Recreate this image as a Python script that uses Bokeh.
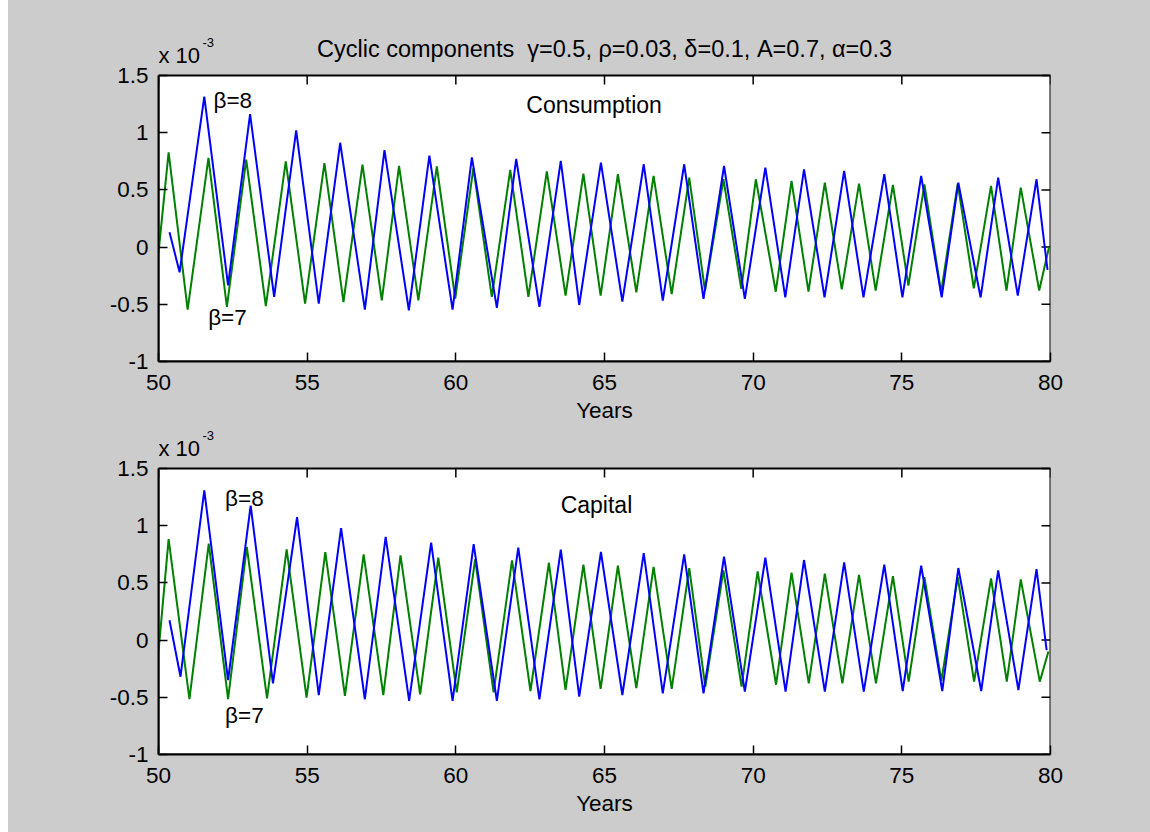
from bokeh.plotting import figure
from bokeh.models import Range1d, FixedTicker, Label, Spacer
from bokeh.layouts import column, row
from bokeh.embed import file_html
from bokeh.resources import INLINE

# ---------------- data (values in units of 1e-3) ----------------
title_text = "Cyclic components\u00a0 \u03b3=0.5, \u03c1=0.03, \u03b4=0.1, A=0.7, \u03b1=0.3"
x_ticks = [50, 55, 60, 65, 70, 75, 80]
x_tick_labels = ["50", "55", "60", "65", "70", "75", "80"]
y_ticks = [-1, -0.5, 0, 0.5, 1, 1.5]
y_tick_labels = ["-1", "-0.5", "0", "0.5", "1", "1.5"]

# Consumption, beta = 8 (blue): turning points
cons_b8_x = [50.37, 50.71, 51.54, 52.34, 53.08, 53.89, 54.63, 55.39, 56.11, 56.94, 57.60, 58.42,
             59.11, 59.89, 60.54, 61.38, 62.03, 62.81, 63.53, 64.15, 64.88, 65.60, 66.32, 66.96,
             67.68, 68.33, 69.02, 69.72, 70.41, 71.08, 71.71, 72.40, 73.06, 73.71, 74.41, 75.02,
             75.65, 76.34, 76.90, 77.65, 78.24, 78.90, 79.53, 79.90]
cons_b8_y = [0.13, -0.22, 1.315, -0.334, 1.162, -0.436, 1.02, -0.494, 0.912, -0.547, 0.847, -0.552,
             0.80, -0.547, 0.785, -0.532, 0.771, -0.523, 0.753, -0.506, 0.738, -0.477, 0.724, -0.468,
             0.724, -0.453, 0.709, -0.453, 0.695, -0.44, 0.68, -0.44, 0.666, -0.44, 0.637, -0.44,
             0.622, -0.44, 0.564, -0.44, 0.607, -0.424, 0.593, -0.20]

# Consumption, beta = 7 (green)
cons_b7_x = [50.0, 50.34, 50.98, 51.68, 52.30, 52.95, 53.61, 54.28, 54.93, 55.58, 56.22, 56.86,
             57.51, 58.09, 58.74, 59.36, 59.98, 60.59, 61.21, 61.83, 62.44, 63.06, 63.69, 64.29,
             64.87, 65.45, 66.07, 66.65, 67.26, 67.85, 68.38, 69.00, 69.60, 70.09, 70.76, 71.29,
             71.86, 72.41, 72.98, 73.56, 74.12, 74.70, 75.22, 75.76, 76.32, 76.88, 77.42, 78.00,
             78.52, 79.00, 79.62, 79.95]
cons_b7_y = [-0.05, 0.829, -0.547, 0.779, -0.523, 0.765, -0.515, 0.75, -0.494, 0.735, -0.48, 0.72,
             -0.465, 0.71, -0.465, 0.706, -0.45, 0.69, -0.436, 0.675, -0.436, 0.662, -0.424, 0.642,
             -0.424, 0.637, -0.395, 0.622, -0.41, 0.607, -0.38, 0.593, -0.365, 0.593, -0.39, 0.578,
             -0.39, 0.564, -0.37, 0.555, -0.38, 0.544, -0.336, 0.549, -0.395, 0.555, -0.36, 0.535,
             -0.38, 0.52, -0.38, 0.0]

# Capital, beta = 8 (blue)
cap_b8_x = [50.37, 50.74, 51.54, 52.34, 53.10, 53.85, 54.66, 55.39, 56.14, 56.94, 57.64, 58.43,
            59.17, 59.89, 60.60, 61.38, 62.10, 62.81, 63.53, 64.15, 64.88, 65.60, 66.32, 66.96,
            67.68, 68.33, 69.02, 69.72, 70.41, 71.09, 71.71, 72.41, 73.06, 73.72, 74.41, 75.03,
            75.65, 76.36, 76.90, 77.67, 78.24, 78.92, 79.53, 79.87]
cap_b8_y = [0.174, -0.32, 1.309, -0.349, 1.176, -0.378, 1.074, -0.48, 0.979, -0.517, 0.903, -0.532,
            0.853, -0.532, 0.838, -0.532, 0.809, -0.517, 0.79, -0.494, 0.77, -0.48, 0.76, -0.465,
            0.75, -0.465, 0.73, -0.45, 0.72, -0.45, 0.70, -0.45, 0.68, -0.45, 0.66, -0.445,
            0.65, -0.445, 0.63, -0.445, 0.61, -0.436, 0.62, -0.087]

# Capital, beta = 7 (green)
cap_b7_x = [50.0, 50.34, 51.04, 51.69, 52.34, 52.97, 53.65, 54.31, 54.98, 55.61, 56.27, 56.90,
            57.56, 58.14, 58.80, 59.41, 60.03, 60.65, 61.27, 61.89, 62.51, 63.13, 63.69, 64.29,
            64.87, 65.45, 66.07, 66.65, 67.26, 67.85, 68.39, 69.00, 69.61, 70.15, 70.77, 71.29,
            71.87, 72.41, 73.00, 73.56, 74.13, 74.70, 75.23, 75.76, 76.33, 76.88, 77.43, 78.00,
            78.53, 79.00, 79.64, 79.93]
cap_b7_y = [-0.1, 0.882, -0.517, 0.844, -0.517, 0.815, -0.509, 0.794, -0.503, 0.77, -0.488, 0.75,
            -0.48, 0.741, -0.474, 0.72, -0.456, 0.706, -0.456, 0.697, -0.445, 0.676, -0.436, 0.66,
            -0.427, 0.65, -0.42, 0.64, -0.427, 0.63, -0.407, 0.61, -0.407, 0.60, -0.39, 0.59,
            -0.378, 0.58, -0.378, 0.57, -0.378, 0.56, -0.363, 0.55, -0.357, 0.55, -0.363, 0.54,
            -0.363, 0.53, -0.363, -0.1]

FONT = "Liberation Sans"
FS = "22.5px"
BG = "#cccccc"
BLUE = "#0000ff"
GREEN = "#008000"

XMIN, XMAX, YMIN, YMAX = 50, 80, -1, 1.5
BOX_W, BOX_H = 892, 286                 # size of the white axes box in px
LEFT_B, RIGHT_B = 150, 100
PX_PER_Y = BOX_H / (YMAX - YMIN)
TICK_PX = 9


def style_axis(ax, ticks, labels):
    ax.ticker = FixedTicker(ticks=ticks)
    ax.minor_tick_line_color = None
    ax.major_tick_in = TICK_PX
    ax.major_tick_out = 0
    ax.major_tick_line_color = "black"
    ax.major_tick_line_width = 1.5
    ax.axis_line_color = "black"
    ax.axis_line_width = 2
    ax.major_label_text_font = FONT
    ax.major_label_text_font_size = FS
    ax.major_label_text_color = "black"
    ax.major_label_overrides = {t: l for t, l in zip(ticks, labels)}


def make_panel(bx, by, gx, gy, name, name_xy, b8_xy, b7_xy, head_px, bottom, title=None):
    # the frame reaches head_px above the axes box, so that texts above the box are drawn
    ytop = YMAX + head_px / PX_PER_Y
    p = figure(frame_width=BOX_W, frame_height=BOX_H + head_px,
               x_range=Range1d(XMIN, XMAX), y_range=Range1d(YMIN, ytop),
               output_backend="svg", toolbar_location=None,
               min_border_left=LEFT_B, min_border_right=RIGHT_B,
               min_border_top=0, min_border_bottom=bottom)
    p.background_fill_color = BG
    p.border_fill_color = BG
    p.outline_line_color = None
    p.xgrid.visible = False
    p.ygrid.visible = False

    # white axes box
    p.quad(left=[XMIN], right=[XMAX], bottom=[YMIN], top=[YMAX],
           fill_color="white", line_color="black", line_width=2)

    style_axis(p.xaxis[0], x_ticks, x_tick_labels)
    style_axis(p.yaxis[0], y_ticks, y_tick_labels)
    p.yaxis.bounds = (YMIN, YMAX)
    p.xaxis.major_label_standoff = 13
    p.yaxis.major_label_standoff = 10
    p.xaxis.axis_label = "Years"
    p.xaxis.axis_label_text_font = FONT
    p.xaxis.axis_label_text_font_size = FS
    p.xaxis.axis_label_text_font_style = "normal"
    p.xaxis.axis_label_text_color = "black"
    p.xaxis.axis_label_standoff = 5

    # box ticks on top and right edges (same tick positions as the axes)
    dy = TICK_PX / PX_PER_Y
    dx = TICK_PX * (XMAX - XMIN) / BOX_W
    p.segment(x0=x_ticks, y0=[YMAX] * len(x_ticks), x1=x_ticks, y1=[YMAX - dy] * len(x_ticks),
              line_color="black", line_width=1.5)
    p.segment(x0=[XMAX] * len(y_ticks), y0=y_ticks, x1=[XMAX - dx] * len(y_ticks), y1=y_ticks,
              line_color="black", line_width=1.5)

    p.line(gx, gy, line_color=GREEN, line_width=2)
    p.line(bx, by, line_color=BLUE, line_width=2)

    def lab(x, y, txt, align="left", size=FS, xo=0, yo=0):
        p.add_layout(Label(x=x, y=y, text=txt, text_align=align, text_baseline="middle",
                           x_offset=xo, y_offset=yo,
                           text_font=FONT, text_font_size=size, text_color="black"))

    lab(name_xy[0], name_xy[1], name, align="center", size="23px")
    lab(b8_xy[0], b8_xy[1], "\u03b2=8")
    lab(b7_xy[0], b7_xy[1], "\u03b2=7")
    # exponent label above the top-left corner of the box
    lab(XMIN, YMAX, "x 10", size="22px", yo=20)
    lab(XMIN, YMAX, "-3", size="13px", xo=44, yo=33)
    if title:
        lab((XMIN + XMAX) / 2, YMAX, title, align="center", size="23.5px", yo=27)
    return p


p1 = make_panel(cons_b8_x, cons_b8_y, cons_b7_x, cons_b7_y, "Consumption",
                (64.65, 1.238), (51.85, 1.28), (51.67, -0.613), head_px=63, bottom=66,
                title=title_text)
p2 = make_panel(cap_b8_x, cap_b8_y, cap_b7_x, cap_b7_y, "Capital",
                (64.73, 1.18), (52.24, 1.238), (52.24, -0.659), head_px=41, bottom=78)

layout = row(Spacer(width=8),
             column(Spacer(height=12), p1, p2, spacing=0, styles={"background-color": BG}),
             spacing=0)
open("out.html", "w").write(file_html(layout, INLINE))
